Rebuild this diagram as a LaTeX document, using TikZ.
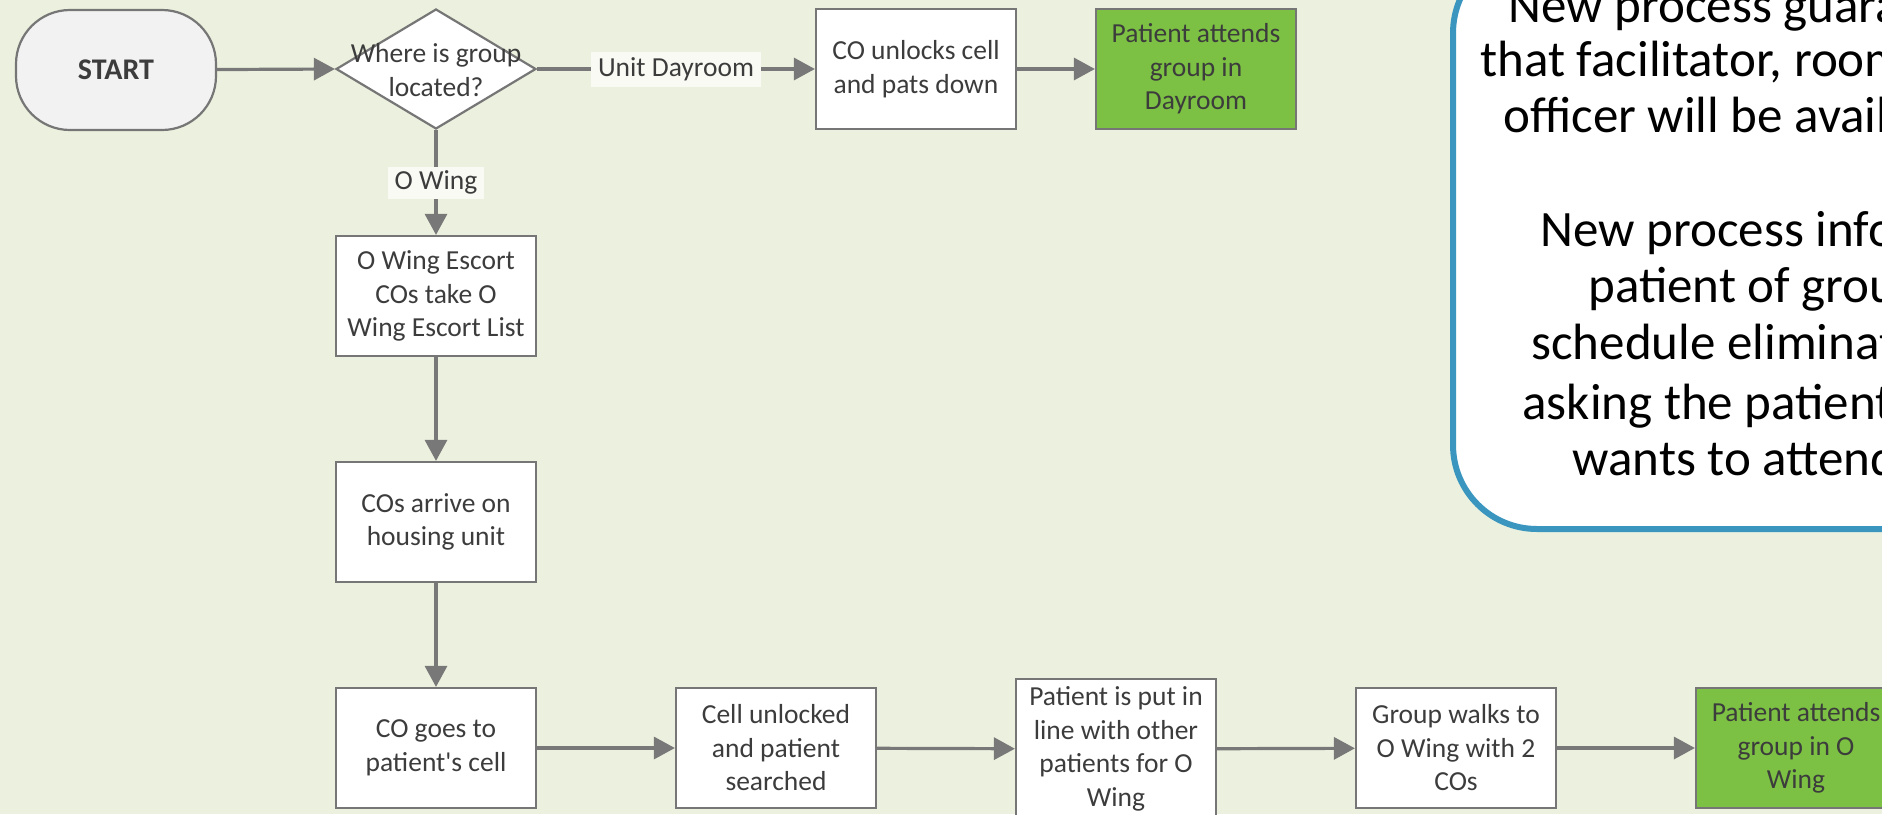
\documentclass[tikz,border=0pt]{standalone}
\usepackage{fontspec}
\setmainfont{Carlito}
\usetikzlibrary{arrows.meta,shapes.geometric}
\definecolor{bg}{RGB}{235,241,222}
\definecolor{linegray}{RGB}{120,120,120}
\definecolor{boxline}{RGB}{118,118,118}
\definecolor{txt}{RGB}{60,60,60}
\definecolor{grn}{RGB}{124,193,67}
\definecolor{startfill}{RGB}{242,242,242}
\definecolor{noteblue}{RGB}{58,149,191}
\colorlet{tagfill}{white!65!bg}
\newcommand\boxfont{\fontsize{13.75pt}{16.75pt}\selectfont}
\newcommand\startfont{\fontsize{15pt}{18pt}\selectfont\bfseries}
\newcommand\notefont{\fontsize{25.5pt}{28pt}\selectfont}
\tikzset{
  proc/.style={draw=boxline, line width=1.1pt, fill=white, minimum width=100pt,
    minimum height=60pt, inner sep=0pt, align=center, text=txt, font=\boxfont},
  done/.style={proc, fill=grn},
  startbox/.style={draw=boxline, line width=1.1pt, fill=startfill, rounded corners=27pt,
    minimum width=100pt, minimum height=60pt, text=txt, font=\startfont},
  decision/.style={draw=boxline, line width=1.1pt, fill=white, diamond,
    minimum width=100pt, minimum height=60pt, inner sep=0pt},
  plain/.style={align=center, text=txt, font=\boxfont, inner sep=0pt},
  flow/.style={draw=linegray, line width=1.6pt, -{Triangle[length=10.5pt,width=11pt]}},
  tag/.style={fill=tagfill, text=txt, font=\boxfont, inner xsep=3.5pt, inner ysep=0pt},
  notebox/.style={draw=noteblue, line width=3pt, fill=white, rounded corners=42pt,
    minimum width=323.5pt, minimum height=290pt},
  notetext/.style={anchor=base west, font=\notefont, text=black, inner sep=0pt},
}
\begin{document}
\begin{tikzpicture}[x=0.5pt,y=-0.5pt]
\useasboundingbox (0,0) rectangle (1882,814);
\clip (0,0) rectangle (1882,814);
\fill[bg] (0,0) rectangle (1882,814);

% callout note
\node[notebox] (note) at (1776.5,239) {};
\node[notetext] (n1) at (1508,22)  {New process guarantees};
\node[notetext] (n2) at (1480,76)  {that facilitator, room};
\node[notetext] (n3) at (1503,132) {officer will be available};
\node[notetext] (n4) at (1540,246) {New process informs};
\node[notetext] (n5) at (1588,302) {patient of group};
\node[notetext] (n6) at (1531,359) {schedule eliminates};
\node[notetext] (n7) at (1522,419) {asking the patient};
\node[notetext] (n8) at (1572,475) {wants to attend};

% top row
\node[startbox] (start) at (116,70) {START};
\node[decision] (q) at (436,69) {};
\node[plain] (qt) at (436,70) {Where is group\\located?};
\node[proc] (unlock) at (916,69) {CO unlocks cell\\and pats down};
\node[done] (dayroom) at (1196,69) {Patient attends\\group in\\Dayroom};

% left column
\node[proc] (escort) at (436,296) {O Wing Escort\\COs take O\\Wing Escort List};
\node[proc] (arrive) at (436,522) {COs arrive on\\housing unit};
\node[proc] (goes) at (436,748) {CO goes to\\patient\textquotesingle s cell};

% bottom row
\node[proc] (searched) at (776,748) {Cell unlocked\\and patient\\searched};
\node[proc, minimum height=70pt] (inline) at (1116,749) {Patient is put in\\line with other\\patients for O\\Wing};
\node[proc] (walks) at (1456,748) {Group walks to\\O Wing with 2\\COs};
\node[done] (owing) at (1796,748) {Patient attends\\group in O\\Wing};

% connectors
\draw[flow] (start) -- (q.west);
\draw[flow] (q.east) -- node[tag, minimum height=17.5pt] (tdr) {Unit Dayroom} (unlock);
\draw[flow] (unlock) -- (dayroom);
\draw[flow] (q.south) -- node[tag, minimum height=16pt] (tow) {O Wing} (escort);
\draw[flow] (escort) -- (arrive);
\draw[flow] (arrive) -- (goes);
\draw[flow] (goes) -- (searched);
\draw[flow] (searched) -- (inline);
\draw[flow] (inline) -- (walks);
\draw[flow] (walks) -- (owing);
\end{tikzpicture}
\end{document}
